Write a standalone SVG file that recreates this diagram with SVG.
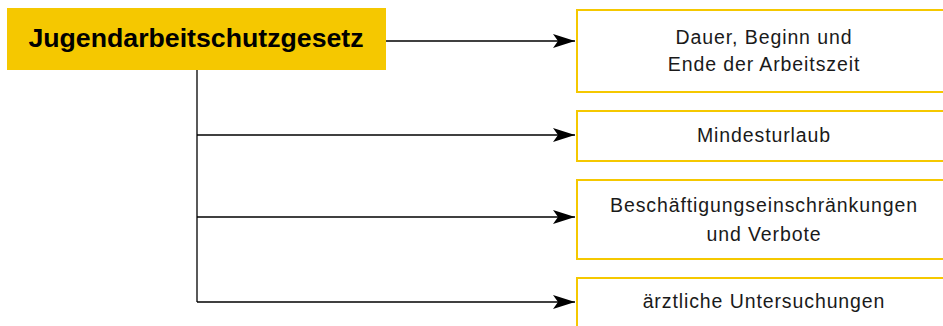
<svg xmlns="http://www.w3.org/2000/svg" width="943" height="326" viewBox="0 0 943 326">
<style>
.box{fill:#fff;stroke:#F5C800;stroke-width:2}
.t{font-family:"Liberation Sans",Arial,sans-serif;font-size:19.5px;letter-spacing:0.9px;fill:#1a1a1a;text-anchor:middle}
.h{font-family:"Liberation Sans",Arial,sans-serif;font-size:26.7px;font-weight:bold;fill:#000;text-anchor:middle}
.c{fill:none;stroke:#000;stroke-width:1.3}
</style>
<defs>
<marker id="ar" markerUnits="userSpaceOnUse" markerWidth="24" markerHeight="14" refX="22" refY="7" orient="auto">
<path d="M0,0 L22,7 L0,14 L5,7 Z" fill="#000"/>
</marker>
</defs>
<rect width="943" height="326" fill="#fff"/>
<g id="connectors">
<path class="c" d="M386,41 H575" marker-end="url(#ar)"/>
<path class="c" d="M197,70 V302"/>
<path class="c" d="M197,135 H575" marker-end="url(#ar)"/>
<path class="c" d="M197,217 H575" marker-end="url(#ar)"/>
<path class="c" d="M197,302 H575" marker-end="url(#ar)"/>
</g>
<g id="main">
<rect x="7" y="8" width="379" height="62" fill="#F5C800"/>
<text class="h" x="196" y="47">Jugendarbeitschutzgesetz</text>
</g>
<g id="n1">
<rect class="box" x="577" y="10" width="380" height="82"/>
<text class="t" x="764" y="44">Dauer, Beginn und</text>
<text class="t" x="764" y="71">Ende der Arbeitszeit</text>
</g>
<g id="n2">
<rect class="box" x="577" y="111" width="380" height="50"/>
<text class="t" x="764" y="142">Mindesturlaub</text>
</g>
<g id="n3">
<rect class="box" x="577" y="180" width="380" height="79"/>
<text class="t" x="764" y="212">Beschäftigungseinschränkungen</text>
<text class="t" x="764" y="241">und Verbote</text>
</g>
<g id="n4">
<rect class="box" x="577" y="278" width="380" height="60"/>
<text class="t" x="764" y="308">ärztliche Untersuchungen</text>
</g>
</svg>
